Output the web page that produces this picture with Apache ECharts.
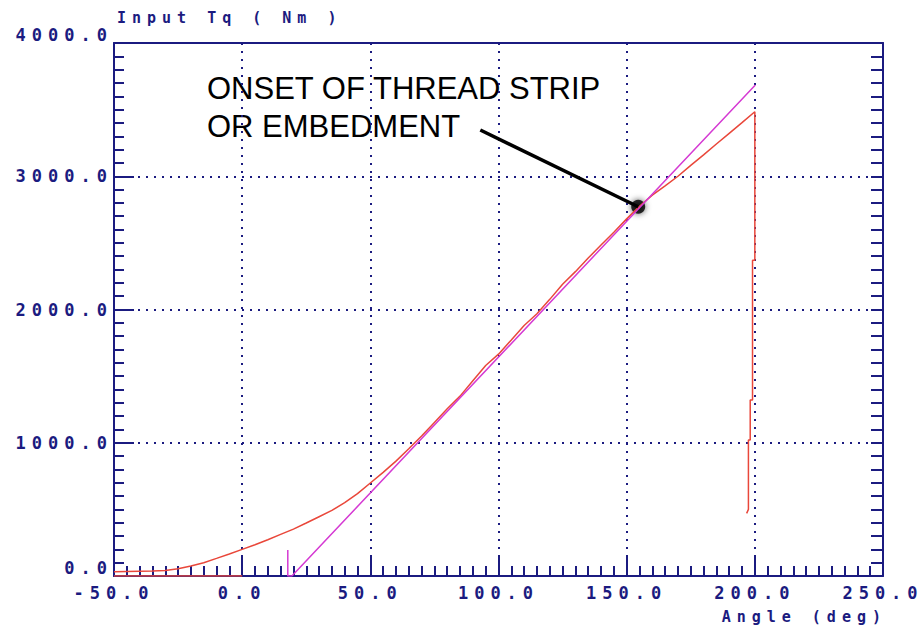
<!DOCTYPE html>
<html>
<head>
<meta charset="utf-8">
<script src="https://cdn.jsdelivr.net/npm/echarts@6/dist/echarts.min.js"></script>
<style>
  html, body { margin: 0; padding: 0; background: #fff; }
  #chart { width: 924px; height: 633px; }
  /* the plotter font is wide and blocky, spread the mono labels out */
  #chart text[style*="Mono"] { letter-spacing: 6px; }
</style>
</head>
<body>
<div id="chart"></div>
<script>
// red trace: measured torque vs angle (ends with the drop after strip)
const torqueCurve = [
  [-50, 32], [-45, 34], [-40, 36], [-35, 38], [-30, 42], [-25, 55], [-20, 75], [-15, 100],
  [-10, 132], [-5, 165], [0, 200], [5, 235], [10, 272], [15, 312], [20, 352], [25, 398],
  [30, 445], [35, 492], [40, 550], [45, 618], [50, 698], [55, 778], [60, 862], [65, 955],
  [70, 1050], [75, 1152], [80, 1255], [85, 1350], [90, 1465], [95, 1580], [100, 1665],
  [105, 1772], [110, 1880], [115, 1968], [120, 2076], [125, 2190], [130, 2284], [135, 2386],
  [140, 2484], [145, 2580], [150, 2680], [155, 2775], [160, 2858], [165, 2928], [170, 3000],
  [175, 3082], [180, 3160], [185, 3242], [190, 3322], [195, 3402], [200, 3484],
  [200, 2370], [199.1, 2370], [199.1, 1320], [198.2, 1320], [198.2, 1020], [197.5, 1020],
  [197.5, 500], [196.8, 470]
]
const torqueBase = [[-50, 0], [0, 0]]
// magenta trace: straight reference line
const refLine = [[17.8, 195], [17.8, 0], [19.4, 0], [200.2, 3685]]
// pointer to the onset point
const pointer = [[92.9, 3347], [154.5, 2771]]
const onset = [[154.5, 2771]]

const xTicks = { min: -50, max: 250, interval: 50 }
const yTicks = { min: 0, max: 4000, interval: 1000 }

const navy = '#1b1b80'
const red = '#e9473a'
const magenta = '#d53ad3'

const labelFont = {
  color: navy,
  fontFamily: 'DejaVu Sans Mono',
  fontWeight: 'bold',
  fontSize: 17
}

const myChart = echarts.init(document.getElementById('chart'), null, { renderer: 'svg' })

const option = {
  animation: false,
  backgroundColor: '#fff',
  grid: { left: 114, right: 41, top: 43, bottom: 57, containLabel: false },
  xAxis: [
    {
      type: 'value',
      position: 'bottom',
      min: xTicks.min,
      max: xTicks.max,
      interval: xTicks.interval,
      name: 'Angle (deg)',
      nameLocation: 'end',
      nameGap: 4,
      nameTextStyle: {
        color: navy, fontFamily: 'DejaVu Sans Mono', fontWeight: 'bold', fontSize: 15,
        align: 'right', verticalAlign: 'top', padding: [33, 0, 0, 0]
      },
      axisLine: { show: true, onZero: false, lineStyle: { color: navy, width: 2 } },
      axisTick: { show: true, inside: true, length: 20, lineStyle: { color: navy, width: 2 } },
      minorTick: { show: true, splitNumber: 10, length: 10, lineStyle: { color: navy, width: 2 } },
      axisLabel: Object.assign({ margin: 8, formatter: (v) => v.toFixed(1) }, labelFont),
      splitLine: { show: true, lineStyle: { color: navy, width: 2, type: [2, 6] } }
    },
    {
      type: 'value',
      position: 'top',
      min: xTicks.min,
      max: xTicks.max,
      interval: xTicks.interval,
      axisLine: { show: true, onZero: false, lineStyle: { color: navy, width: 2 } },
      axisTick: { show: false },
      axisLabel: { show: false },
      splitLine: { show: false }
    }
  ],
  yAxis: [
    {
      type: 'value',
      position: 'left',
      min: yTicks.min,
      max: yTicks.max,
      interval: yTicks.interval,
      name: 'Input Tq ( Nm )',
      nameLocation: 'end',
      nameGap: 25,
      nameTextStyle: {
        color: navy, fontFamily: 'DejaVu Sans Mono', fontWeight: 'bold', fontSize: 15,
        align: 'left', verticalAlign: 'middle', padding: [0, 0, 0, 3]
      },
      axisLine: { show: true, onZero: false, lineStyle: { color: navy, width: 2 } },
      axisTick: { show: true, inside: true, length: 20, lineStyle: { color: navy, width: 2 } },
      minorTick: { show: true, splitNumber: 10, length: 10, lineStyle: { color: navy, width: 2 } },
      axisLabel: Object.assign({
        margin: 1,
        formatter: (v) => v.toFixed(1),
        verticalAlignMinLabel: 'bottom',
        verticalAlignMaxLabel: 'bottom'
      }, labelFont),
      splitLine: { show: true, lineStyle: { color: navy, width: 2, type: [2, 6] } }
    },
    {
      type: 'value',
      position: 'right',
      min: yTicks.min,
      max: yTicks.max,
      interval: yTicks.interval,
      axisLine: { show: true, onZero: false, lineStyle: { color: navy, width: 2 } },
      axisTick: { show: true, inside: true, length: 12, lineStyle: { color: navy, width: 2 } },
      minorTick: { show: true, splitNumber: 10, length: 12, lineStyle: { color: navy, width: 2 } },
      axisLabel: { show: false },
      splitLine: { show: false }
    }
  ],
  graphic: [
    {
      type: 'text',
      left: 207,
      top: 69,
      style: {
        text: 'ONSET OF THREAD STRIP\nOR EMBEDMENT',
        font: '31px "Liberation Sans"',
        fill: '#000',
        lineHeight: 38
      }
    }
  ],
  series: [
    {
      type: 'line',
      data: torqueBase,
      showSymbol: false,
      lineStyle: { color: red, width: 1.5 }
    },
    {
      type: 'line',
      data: torqueCurve,
      showSymbol: false,
      lineStyle: { color: red, width: 1.5 }
    },
    {
      type: 'line',
      data: refLine,
      showSymbol: false,
      lineStyle: { color: magenta, width: 1.5 }
    },
    {
      type: 'line',
      data: pointer,
      showSymbol: false,
      lineStyle: { color: '#000', width: 3.5 }
    },
    {
      type: 'scatter',
      data: onset,
      symbolSize: 14,
      itemStyle: { color: '#000', shadowBlur: 6, shadowColor: 'rgba(0,0,0,0.8)' }
    }
  ]
}

myChart.setOption(option)
</script>
</body>
</html>
